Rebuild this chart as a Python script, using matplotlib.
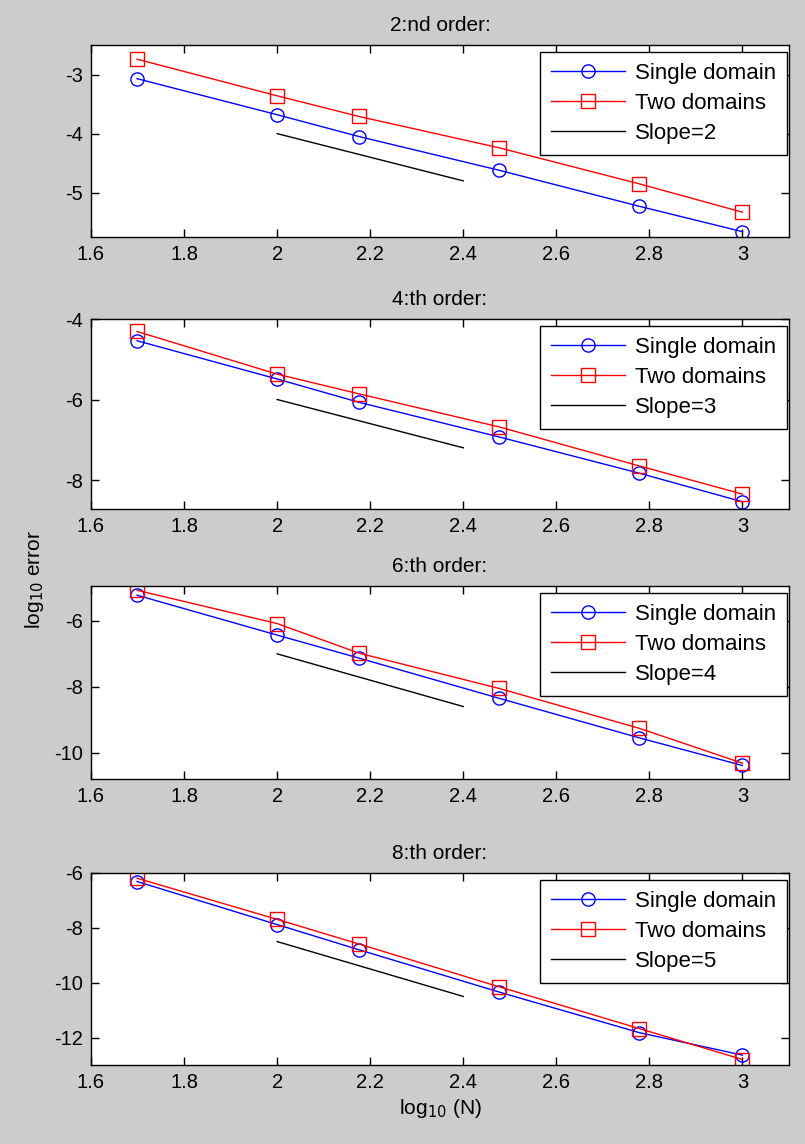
import numpy as np
import matplotlib
matplotlib.use("Agg")
import matplotlib.pyplot as plt

plt.rcParams['font.family'] = ['Liberation Sans', 'DejaVu Sans']
plt.rcParams['axes.unicode_minus'] = False

# log10(N), N = 50, 100, 150, 300, 600, 1000
logN = np.log10([50, 100, 150, 300, 600, 1000])

titles = ["2:nd order:", "4:th order:", "6:th order:", "8:th order:"]

# log10 error, single domain
single = [
    [-3.07, -3.68, -4.05, -4.62, -5.23, -5.66],
    [-4.54, -5.49, -6.07, -6.93, -7.83, -8.54],
    [-5.22, -6.43, -7.13, -8.35, -9.55, -10.39],
    [-6.31, -7.88, -8.80, -10.34, -11.82, -12.64],
]
# log10 error, two domains
two = [
    [-2.74, -3.36, -3.71, -4.24, -4.85, -5.33],
    [-4.31, -5.37, -5.86, -6.68, -7.65, -8.35],
    [-5.07, -6.08, -6.98, -8.05, -9.26, -10.32],
    [-6.19, -7.69, -8.59, -10.15, -11.67, -12.80],
]
# reference slope lines
slopes = [2, 3, 4, 5]
slope_x = [2.0, 2.4]
slope_y0 = [-4.0, -6.0, -7.0, -8.5]

ylims = [(-5.75, -2.5), (-8.72, -4.0), (-10.8, -4.94), (-13.0, -6.0)]
yticks = [[-5, -4, -3], [-8, -6, -4], [-10, -8, -6], [-12, -10, -8, -6]]

W, H = 805, 1144
fig = plt.figure(figsize=(W / 100, H / 100), dpi=100, facecolor=(0.8, 0.8, 0.8))

# axes boxes in pixels: (top, bottom)
boxes = [(45, 237), (319, 509), (586, 779), (873, 1065)]
left, right = 91, 789

for k in range(4):
    top, bot = boxes[k]
    ax = fig.add_axes([left / W, 1 - bot / H, (right - left) / W, (bot - top) / H])
    ax.set_facecolor('white')
    ax.plot(logN, single[k], '-o', color='blue', lw=1, ms=9.5, mfc='none', mew=1,
            label='Single domain')
    ax.plot(logN, two[k], '-s', color='red', lw=1, ms=10, mfc='none', mew=1,
            label='Two domains')
    sy = [slope_y0[k], slope_y0[k] - slopes[k] * (slope_x[1] - slope_x[0])]
    ax.plot(slope_x, sy, '-', color='black', lw=1, label='Slope=%d' % slopes[k])
    ax.set_xlim(1.6, 3.1)
    ax.set_ylim(*ylims[k])
    ax.set_xticks([1.6, 1.8, 2, 2.2, 2.4, 2.6, 2.8, 3])
    ax.set_xticklabels(['1.6', '1.8', '2', '2.2', '2.4', '2.6', '2.8', '3'])
    ax.set_yticks(yticks[k])
    ax.tick_params(direction='in', top=True, right=True, length=6, width=1,
                   labelsize=14.5, pad=6)
    for s in ax.spines.values():
        s.set_linewidth(1)
    ax.set_title(titles[k], fontsize=15, pad=10)
    h = bot - top
    leg = ax.legend(loc='upper right', bbox_to_anchor=(1 - 2 / (right - left), 1 - 7 / h),
                    fontsize=16, fancybox=False, framealpha=1, numpoints=1,
                    edgecolor='black', handlelength=3.3, handletextpad=0.45,
                    labelspacing=0.4, borderaxespad=0, borderpad=0.5)
    leg.get_frame().set_linewidth(1)
    if k == 3:
        ax.set_xlabel('log$_{10}$ (N)', fontsize=15, labelpad=3)

fig.text(35 / W, 1 - 580 / H, 'log$_{10}$ error', rotation=90, fontsize=15,
         ha='center', va='center')

fig.savefig('out.png', dpi=100, facecolor=fig.get_facecolor())
